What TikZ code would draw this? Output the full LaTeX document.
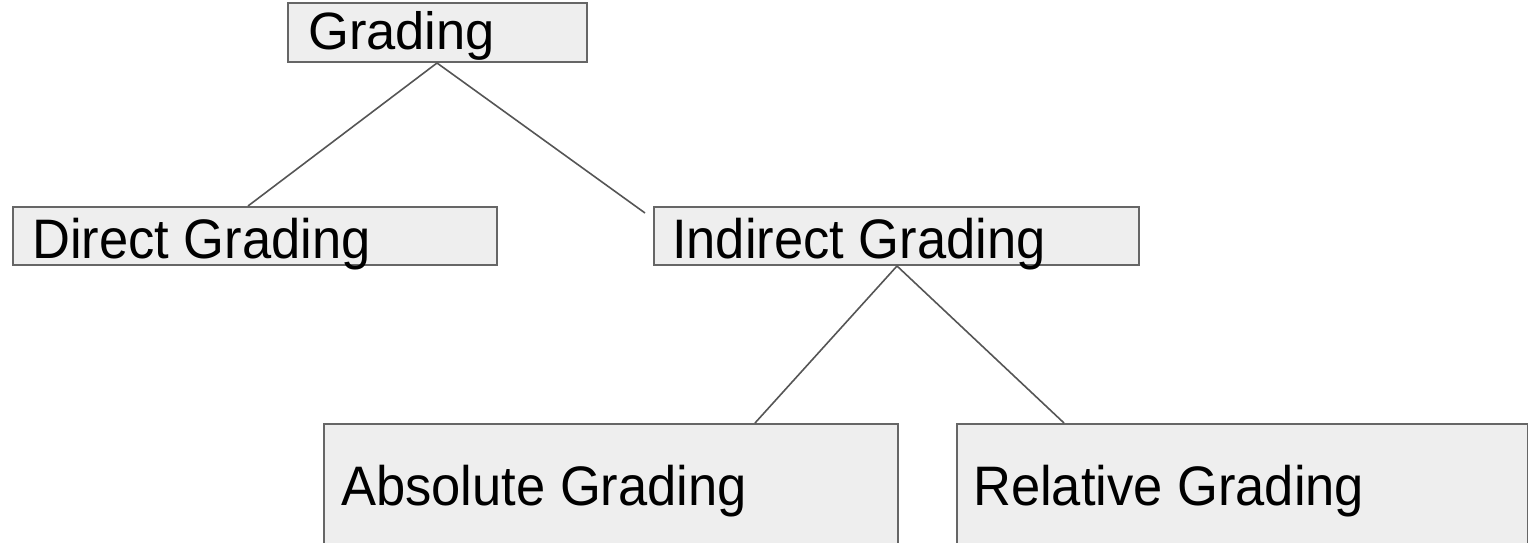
\documentclass[tikz,border=0pt]{standalone}
\usepackage{fontspec}
\setmainfont{Liberation Sans}
\usetikzlibrary{calc}
\definecolor{boxfill}{HTML}{EEEEEE}
\definecolor{boxline}{HTML}{666666}
\definecolor{edgeline}{HTML}{555555}
\newcommand{\tall}[1]{\scalebox{1}[1.06]{#1}}
\tikzset{
  box/.style={draw=boxline, fill=boxfill, line width=2pt, inner sep=0pt, anchor=north west},
  lbl/.style={anchor=base west, inner sep=0pt, font=\fontsize{52.5}{60}\selectfont},
  edge/.style={draw=edgeline, line width=1.6pt}
}
\begin{document}
\begin{tikzpicture}[x=1pt, y=-1pt]
\useasboundingbox (0,0) rectangle (1528,543);
\begin{scope}
\clip (0,0) rectangle (1528,543);
% boxes
\node[box, minimum width=299pt, minimum height=59pt] (grading) at (287,2) {};
\node[box, minimum width=484pt, minimum height=58pt] (direct) at (12,206) {};
\node[box, minimum width=485pt, minimum height=58pt] (indirect) at (653,206) {};
\node[box, minimum width=574pt, minimum height=121pt] (absolute) at (323,423) {};
\node[box, minimum width=571pt, minimum height=121pt] (relative) at (956,423) {};
% labels
\node[lbl] (tgrading) at ($(grading.north west)+(21,48)$) {Grading};
\node[lbl] (tdirect) at ($(direct.north west)+(20,52)$) {\tall{Direct Grading}};
\node[lbl] (tindirect) at ($(indirect.north west)+(19,52)$) {\tall{Indirect Grading}};
\node[lbl] (tabsolute) at ($(absolute.north west)+(18,82)$) {\tall{Absolute Grading}};
\node[lbl] (trelative) at ($(relative.north west)+(17,82)$) {\tall{Relative Grading}};
% connectors
\coordinate (gsplit) at ($(grading.south west)+(150,0)$);
\coordinate (isplit) at ($(indirect.south west)+(244,0)$);
\coordinate (dend) at ($(direct.north west)+(236,0)$);
\coordinate (iend) at ($(indirect.north west)+(-8,7)$);
\coordinate (aend) at ($(absolute.north west)+(432,0)$);
\coordinate (rend) at ($(relative.north west)+(108,0)$);
\draw[edge] (gsplit) -- (dend);
\draw[edge] (gsplit) -- (iend);
\draw[edge] (isplit) -- (aend);
\draw[edge] (isplit) -- (rend);
\end{scope}
\end{tikzpicture}
\end{document}
